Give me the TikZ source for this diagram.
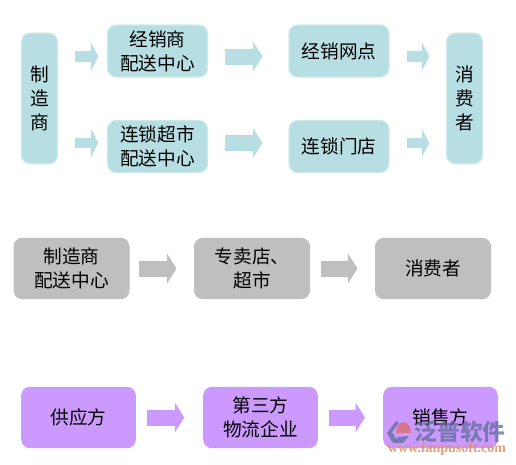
\documentclass[tikz,border=0pt]{standalone}
\usepackage{fontspec}
\usepackage{xcolor}
\usepackage{tikz}
\usetikzlibrary{arrows.meta}
\setmainfont{Liberation Serif}
\newfontfamily\cjk{Noto Sans CJK SC}
\definecolor{tealfill}{HTML}{B7DFE3}
\definecolor{tealedge}{HTML}{CDE9EC}
\definecolor{grayfill}{HTML}{BFBFBF}
\definecolor{purplefill}{HTML}{CC99FF}
\definecolor{markblue}{HTML}{5F6F9A}
\definecolor{markred}{HTML}{D9707A}
\definecolor{markorange}{HTML}{E0905A}
\begin{document}
\begin{tikzpicture}[
    x=0.75pt, y=-0.75pt,
    box/.style={rectangle, rounded corners=6.5pt, align=center, inner sep=0pt,
                font=\cjk\fontsize{14pt}{18pt}\selectfont, text=black},
    tealbox/.style={box, fill=tealfill, draw=tealedge, line width=0.8pt},
    graybox/.style={box, fill=grayfill, minimum width=87pt, minimum height=46pt},
    purplebox/.style={box, fill=purplefill, minimum width=86pt, minimum height=46pt},
    thin arrow/.style={-{Triangle[length=5.5pt, width=21pt]}, line width=8pt},
    wide arrow/.style={-{Triangle[length=7pt, width=22pt]}, line width=12pt},
  ]
\useasboundingbox (0,0) rectangle (516,464);
  \node[tealbox, minimum width=27pt, minimum height=98pt] (maker) at (39.5, 98.5) {制\\造\\商};
  \node[tealbox, minimum width=75pt, minimum height=39pt] (dealer) at (157.5, 51) {经销商\\配送中心};
  \node[tealbox, minimum width=75pt, minimum height=39pt] (chain) at (157.5, 146.5) {连锁超市\\配送中心};
  \node[tealbox, minimum width=75pt, minimum height=39pt] (outlet) at (339, 51) {经销网点};
  \node[tealbox, minimum width=75pt, minimum height=39pt] (store) at (339, 146.5) {连锁门店};
  \node[tealbox, minimum width=27pt, minimum height=98pt] (buyer) at (464.5, 98.5) {消\\费\\者};

  \node[graybox] (grayhub) at (71.5, 268.5) {制造商\\配送中心};
  \node[graybox] (grayshop) at (252, 268.5) {专卖店、\\超市};
  \node[graybox] (graybuyer) at (433, 268.5) {消费者};

  \node[purplebox] (supplier) at (78.5, 417.5) {供应方};
  \node[purplebox] (third) at (260.5, 417.5) {第三方\\物流企业};
  \node[purplebox] (seller) at (440.5, 417.5) {销售方};

  \coordinate (rowa) at (0, 56.5);
  \coordinate (rowb) at (0, 143);

  \draw[thin arrow, tealfill, shorten <=13pt, shorten >=6.5pt] (maker.east |- rowa) -- (dealer.west |- rowa);
  \draw[thin arrow, tealfill, shorten <=13pt, shorten >=6.5pt] (maker.east |- rowb) -- (chain.west |- rowb);
  \draw[wide arrow, tealfill, shorten <=13pt, shorten >=19.5pt] (dealer.east |- rowa) -- (outlet.west |- rowa);
  \draw[wide arrow, tealfill, shorten <=13pt, shorten >=19.5pt] (chain.east |- rowb) -- (store.west |- rowb);
  \draw[thin arrow, tealfill, shorten <=13pt, shorten >=12.5pt] (outlet.east |- rowa) -- (buyer.west |- rowa);
  \draw[thin arrow, tealfill, shorten <=13pt, shorten >=12.5pt] (store.east |- rowb) -- (buyer.west |- rowb);

  \draw[wide arrow, grayfill, shorten <=7pt, shorten >=13pt] (grayhub) -- (grayshop);
  \draw[wide arrow, grayfill, shorten <=8pt, shorten >=13pt] (grayshop) -- (graybuyer);
  \draw[wide arrow, purplefill, shorten <=8pt, shorten >=14pt] (supplier) -- (third);
  \draw[wide arrow, purplefill, shorten <=8pt, shorten >=13.5pt] (third) -- (seller);

  % logo and site name over the last box
  \fill[markblue, opacity=0.75] (396,421) -- (387,433) -- (392,442) -- (398,442) -- (392,432) -- (399,423) -- cycle;
  \fill[markblue, opacity=0.75] (398,437) -- (409,436) -- (403,443) -- (393,443) -- cycle;
  \fill[markred, opacity=0.85] (396,433) .. controls (396,426) and (400,422) .. (404,422) .. controls (409,423) and (411,428) .. (411,433) -- cycle;
  \node[font=\cjk\bfseries\fontsize{17pt}{17pt}\selectfont, text=markblue, opacity=0.75,
        inner sep=0pt] (markname) at (460, 432) {泛普软件};
  \node[font=\bfseries\fontsize{10.5pt}{10.5pt}\selectfont, text=markorange, opacity=0.85, inner sep=0pt] (marksite) at (447, 449) {www.fanpusoft.com};
\end{tikzpicture}
\end{document}
